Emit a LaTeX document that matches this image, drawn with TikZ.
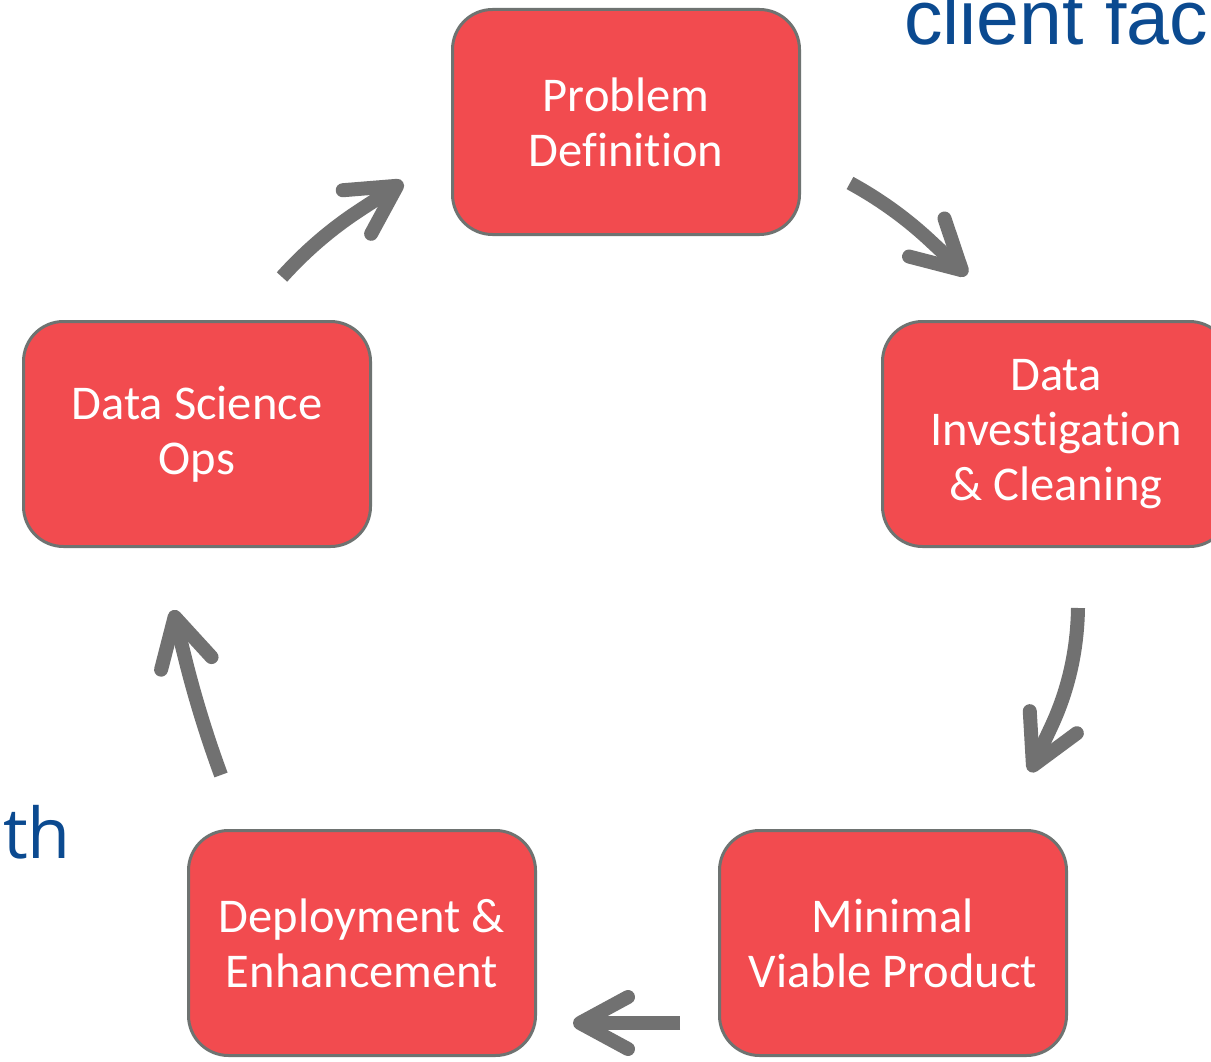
\documentclass[tikz,border=0pt]{standalone}
\usepackage{fontspec}
\setmainfont{Carlito}[Ligatures=NoCommon]
\newfontfamily\arialfont{Liberation Sans}
\newfontfamily\opensansfont{Open Sans}
\usetikzlibrary{arrows.meta,calc}
\definecolor{boxred}{HTML}{F24B4F}
\definecolor{boxedge}{HTML}{6E7371}
\definecolor{arrowgray}{HTML}{717171}
\definecolor{textblue}{HTML}{0B4A90}
\begin{document}
\begin{tikzpicture}[x=1pt,y=-1pt,
  stage/.style={draw=boxedge, line width=3pt, fill=boxred, rounded corners=40pt,
    minimum width=347pt, minimum height=225pt, align=center, text=white,
    font=\fontsize{48.5}{55}\selectfont, inner sep=0pt},
  flow/.style={draw=arrowgray, line width=14pt,
    -{Straight Barb[length=48pt,width=52pt,round]}},
  sidetext/.style={inner sep=0pt, text=textblue}
]
\useasboundingbox (0,0) rectangle (1211,1062);
\clip (0,0) rectangle (1211,1062);
\fill[white] (0,0) rectangle (1211,1062);

\node[stage] (pd)  at (626,122) {Problem\\Definition};
\node[stage] (dic) at (1056,434) {Data\\Investigation\\\& Cleaning};
\node[stage] (mvp) at (893,943) {Minimal\\Viable Product};
\node[stage] (de)  at (362,943) {Deployment \&\\Enhancement};
\node[stage] (dso) at (197,434) {Data Science\\Ops};

\node[sidetext, anchor=base west, font=\arialfont\fontsize{77}{77}\selectfont] (cf) at (904,45) {client fac};
\node[sidetext, anchor=base east, font=\opensansfont\fontsize{70}{70}\selectfont] (th) at (71,858) {th};

% arrow 1: Problem Definition -> Data Investigation
\coordinate (a1s) at (850,183);  \coordinate (a1c) at (894.2,207.1);
\coordinate (a1b) at (930.4,240.9); \coordinate (a1t) at (967,275);
% arrow 2: Data Investigation -> MVP
\coordinate (a2s) at (1078,608); \coordinate (a2c) at (1077,671.4);
\coordinate (a2b) at (1051.2,726.7); \coordinate (a2t) at (1030,772);
% arrow 3: MVP -> Deployment
\coordinate (a3s) at (680,1023); \coordinate (a3t) at (573,1023);
% arrow 4: Deployment -> Data Science Ops
\coordinate (a4s) at (221,775);  \coordinate (a4c) at (199.9,717.7);
\coordinate (a4b) at (185.1,658.5); \coordinate (a4t) at (173,610);
% arrow 5: Data Science Ops -> Problem Definition
\coordinate (a5s) at (282,277);  \coordinate (a5c) at (317.5,237.6);
\coordinate (a5b) at (361.1,209.3); \coordinate (a5t) at (403,182);

\draw[flow] (a1s) .. controls ($(a1s)!2/3!(a1c)$) and ($(a1b)!2/3!(a1c)$) .. (a1b) -- (a1t);
\draw[flow] (a2s) .. controls ($(a2s)!2/3!(a2c)$) and ($(a2b)!2/3!(a2c)$) .. (a2b) -- (a2t);
\draw[flow] (a3s) -- (a3t);
\draw[flow] (a4s) .. controls ($(a4s)!2/3!(a4c)$) and ($(a4b)!2/3!(a4c)$) .. (a4b) -- (a4t);
\draw[flow] (a5s) .. controls ($(a5s)!2/3!(a5c)$) and ($(a5b)!2/3!(a5c)$) .. (a5b) -- (a5t);
\end{tikzpicture}
\end{document}
